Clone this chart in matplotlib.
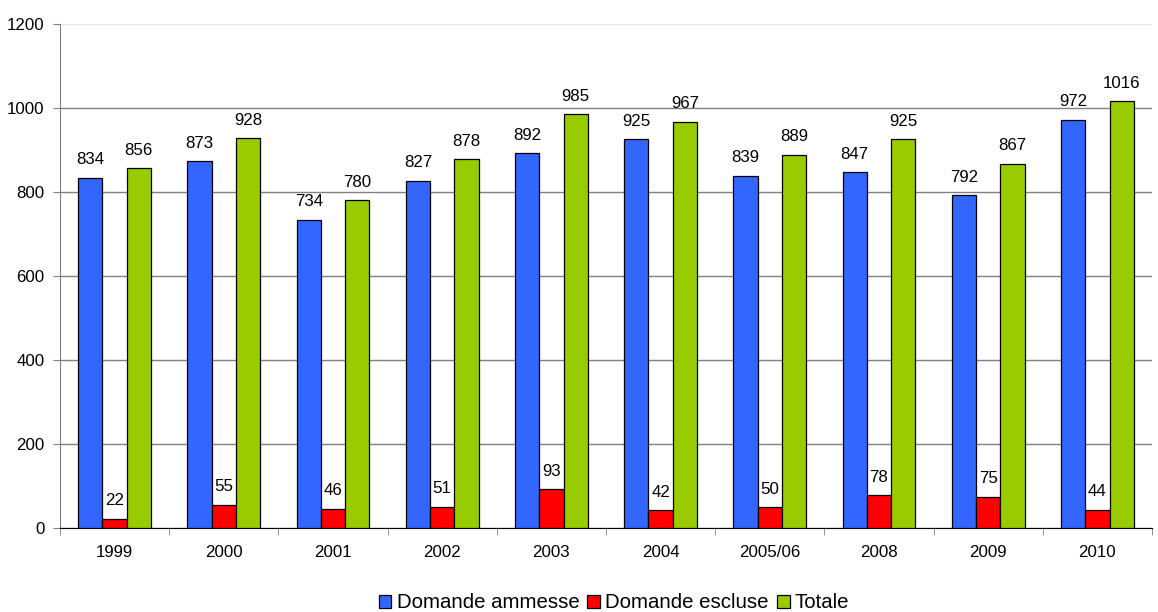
import numpy as np
import matplotlib
matplotlib.use("Agg")
import matplotlib.pyplot as plt

plt.rcParams['font.family'] = ['Liberation Sans', 'DejaVu Sans']

years = ['1999', '2000', '2001', '2002', '2003', '2004', '2005/06', '2008', '2009', '2010']
ammesse = [834, 873, 734, 827, 892, 925, 839, 847, 792, 972]
escluse = [22, 55, 46, 51, 93, 42, 50, 78, 75, 44]
totale = [856, 928, 780, 878, 985, 967, 889, 925, 867, 1016]

series = [
    ('Domande ammesse', ammesse, '#3366FF'),
    ('Domande escluse', escluse, '#FF0000'),
    ('Totale', totale, '#99CC00'),
]

fig = plt.figure(figsize=(11.58, 6.12), dpi=100)
ax = fig.add_axes([60 / 1158, 1 - 528 / 612, 1092 / 1158, 504 / 612])

x = np.arange(len(years))
w = 0.222
for i, (name, vals, col) in enumerate(series):
    bars = ax.bar(x + (i - 1) * w, vals, w, color=col, edgecolor='black',
                  linewidth=0.9, label=name, zorder=3)
    for b, v in zip(bars, vals):
        ax.annotate(str(v), (b.get_x() + b.get_width() / 2, v),
                    xytext=(0, 7.5), textcoords='offset points',
                    ha='center', va='bottom', fontsize=12.2)

ax.set_xlim(-0.5, len(years) - 0.5)
ax.set_ylim(0, 1200)
ax.set_yticks(range(0, 1201, 200))
ax.set_xticks(x)
ax.set_xticklabels(years)
ax.set_xticks(np.arange(-0.5, len(years), 1), minor=True)
ax.tick_params(axis='x', which='major', length=0, pad=12, labelsize=12.2)
ax.tick_params(axis='x', which='minor', length=5, color='#808080', direction='out')
ax.tick_params(axis='y', length=5, color='#808080', labelsize=12.2, pad=6)

ax.yaxis.grid(True, color='#808080', linewidth=1, zorder=0)
ax.get_ygridlines()[-1].set_color('#E6E6E6')
ax.set_axisbelow(True)

for s in ['top', 'right']:
    ax.spines[s].set_visible(False)
ax.spines['left'].set_color('#808080')
ax.spines['bottom'].set_color('#000000')

fig.legend(loc='center', bbox_to_anchor=(614 / 1158, 1 - 603 / 612), ncol=3,
           frameon=False, fontsize=14.7, handlelength=0.62, handleheight=0.62,
           handletextpad=0.25, columnspacing=0.4, borderaxespad=0,
           borderpad=0)

fig.savefig('out.png', dpi=100)
